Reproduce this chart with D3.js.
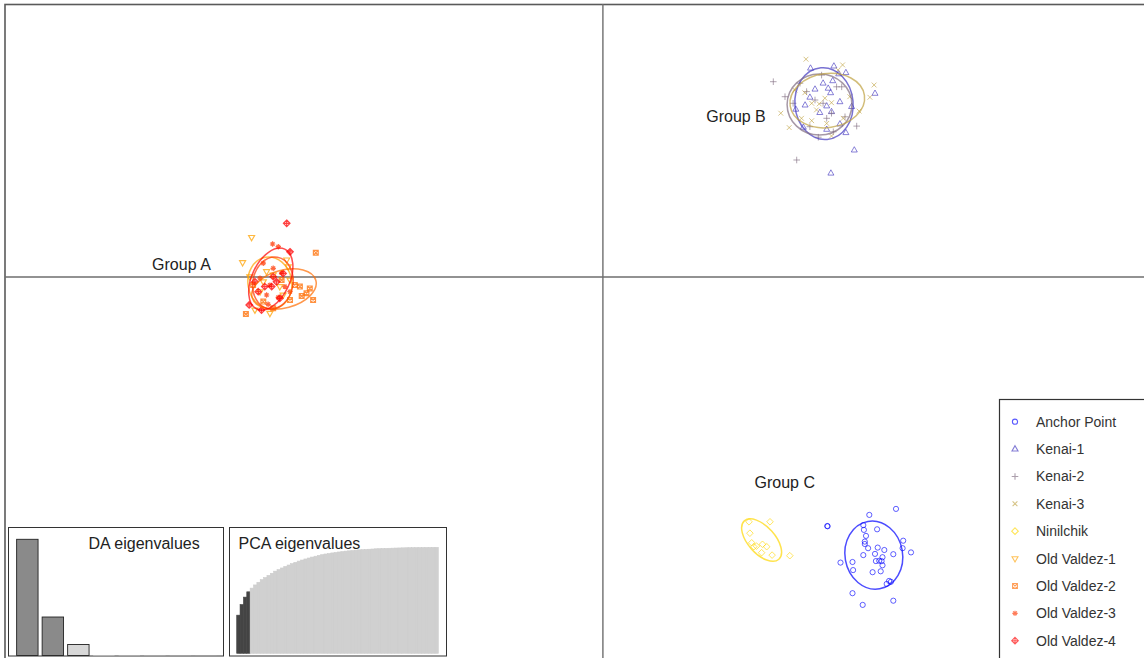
<!DOCTYPE html>
<html>
<head>
<meta charset="utf-8">
<script src="https://cdn.jsdelivr.net/npm/d3@7"></script>
<style>
  body { margin: 0; background: #fff; }
  svg { display: block; font-family: "Liberation Sans", Arial, Helvetica, sans-serif; }
</style>
</head>
<body>
<svg id="chart" width="1144" height="658"></svg>
<script>
// ---- Populations, colours and plotting symbols (R pch codes) ----
const populations = ["Anchor Point", "Kenai-1", "Kenai-2", "Kenai-3", "Ninilchik",
                     "Old Valdez-1", "Old Valdez-2", "Old Valdez-3", "Old Valdez-4"];
const popColors = ["#0000ff", "#4036bf", "#806c80", "#bfa140", "#ffd700",
                   "#ffa100", "#ff6c00", "#ff3600", "#ff0000"];
const popSymbols = [1, 2, 3, 4, 5, 6, 7, 8, 9];

// ---- Individual scores on the discriminant functions [LD1, LD2] ----
const anchorPoint = [[8.88,-7.93],[9.77,-7.73],[7.48,-8.30],[7.49,-8.31],[8.68,-8.27],[8.70,-8.43],[9.14,-8.41],
  [8.77,-8.63],[8.73,-8.82],[8.73,-8.90],[8.84,-9.04],[9.16,-9.02],[9.38,-9.10],[10.01,-8.79],
  [9.99,-9.04],[10.27,-9.18],[9.68,-9.24],[9.07,-9.23],[8.68,-9.27],[9.32,-9.34],[9.10,-9.47],
  [9.21,-9.46],[9.29,-9.47],[9.32,-9.61],[7.92,-9.52],[8.32,-9.50],[8.34,-9.77],[8.99,-9.84],
  [9.26,-9.81],[9.54,-10.13],[9.46,-10.23],[9.60,-10.16],[8.32,-10.54],[9.68,-10.79],[8.66,-10.93]];
const kenai1 = [[6.92,6.96],[7.70,7.03],[8.10,6.81],[7.86,6.77],[7.34,6.46],[7.66,6.54],[7.07,6.26],
  [7.51,6.29],[7.59,6.14],[6.90,5.99],[7.90,5.84],[8.29,5.68],[6.74,5.73],[6.43,5.59],[7.46,5.70],
  [7.23,5.48],[7.62,5.51],[6.68,4.99],[7.46,4.92],[7.90,5.10],[8.10,4.81],[9.07,6.12],[8.38,4.23],
  [7.60,3.46]];
const kenai2 = [[5.68,6.51],[6.07,6.01],[6.79,6.18],[7.07,5.90],[7.34,5.79],[7.62,5.46],[7.46,5.29],
  [7.79,6.34],[7.29,6.73],[6.34,5.79],[6.90,5.01],[7.18,4.66],[7.68,4.84],[8.46,5.03],[6.46,3.90],
  [8.07,5.34],[7.96,6.34],[6.57,6.46]];
const kenai3 = [[6.77,7.26],[7.99,7.07],[7.84,6.90],[9.04,6.40],[8.90,5.99],[5.93,5.46],[6.21,4.98],
  [6.40,6.23],[6.73,6.14],[6.96,5.79],[7.21,5.77],[7.62,5.81],[7.12,5.57],[8.01,5.29],[6.96,5.21],
  [7.46,5.12],[8.54,5.53],[7.40,5.96],[7.62,4.70],[8.23,6.01],[6.62,5.29]];
const ninilchik = [[4.87,-8.16],[5.57,-8.16],[4.90,-8.54],[4.96,-8.86],[5.12,-8.97],[5.32,-8.91],
  [5.46,-8.99],[5.29,-9.19],[5.64,-9.27],[6.23,-9.29],[5.03,-8.99]];
const oldValdez1 = [[-11.71,1.32],[-12.01,0.48],[-10.54,0.57],[-10.49,0.34],[-11.21,0.18],[-10.77,-0.32],
  [-11.32,-0.16],[-11.60,-1.10],[-11.10,-1.21],[-10.43,-0.10],[-10.99,0.07],[-11.77,0.01],
  [-11.43,-0.49],[-10.66,-0.60]];
const oldValdez2 = [[-9.57,0.81],[-11.90,-1.23],[-9.66,-0.77],[-9.88,-0.54],[-10.10,-0.32],[-10.27,-0.27],
  [-10.04,-0.63],[-11.32,-0.82],[-11.66,-0.27],[-10.43,-0.77],[-10.99,-1.04],[-9.77,-0.38],[-10.71,-0.10]];
const oldValdez3 = [[-11.01,1.10],[-10.82,1.01],[-11.32,0.46],[-10.71,0.14],[-11.10,-0.27],[-10.82,-0.68],
  [-11.21,-0.60],[-11.43,-0.04],[-10.99,0.29],[-10.60,-0.32],[-10.43,-0.49],[-11.16,-0.91]];
const oldValdez4 = [[-10.54,1.79],[-11.79,-0.93],[-11.38,-1.10],[-10.99,0.01],[-11.04,-0.32],[-10.77,-0.71],
  [-10.43,0.84],[-11.49,-0.49],[-11.27,-0.32],[-10.66,0.12],[-10.88,-0.16],[-11.60,-0.16]];
const scores = [anchorPoint, kenai1, kenai2, kenai3, ninilchik,
                oldValdez1, oldValdez2, oldValdez3, oldValdez4];

// ---- Inertia ellipses per population: centre, semi-axes (LD units), angle (deg) ----
const ellipseCenters = [[9.03,-9.27],[7.37,5.78],[7.22,5.75],[7.48,5.88],[5.29,-8.77],
                        [-11.10,-0.20],[-10.63,-0.40],[-11.0,-0.2],[-11.07,-0.07]];
const ellipseAxes    = [[0.96,1.14],[0.97,1.20],[1.08,1.02],[1.25,0.90],[0.86,0.45],
                        [0.73,0.87],[1.10,0.63],[0.67,0.87],[0.63,1.10]];
const ellipseAngles  = [-10, -5, 0, -8, 48, -10, -15, 10, 25];

// ---- Group labels ----
const groupLabels = ["Group A", "Group B", "Group C"];
const groupLabelPos = [[-13.07, 0.23], [5.43, 5.17], [7.07, -7.03]];

// ---- Eigenvalues ----
const daEigen = [1540, 510, 146, 6, 4, 3, 2, 1];
const daRetained = 2;
const pcaCumVar = [36,46,53,58,61.5,64.5,67,69.5,71.5,73.5,75.5,77.5,79,80.5,82,83.3,84.6,85.8,87,88,
  89,89.9,90.8,91.6,92.4,93.1,93.7,94.2,94.7,95.2,95.6,96.0,96.4,96.7,97.0,97.3,97.6,97.8,98.0,98.2,
  98.4,98.6,98.7,98.9,99.0,99.1,99.2,99.3,99.4,99.5,99.6,99.65,99.7,99.75,99.8,99.85,99.9,99.93,99.97,100];
const pcaRetained = 4;

// ---------------------------------------------------------------
const svg = d3.select("#chart");
const W = 1144, H = 658;

const x = d3.scaleLinear().domain([-19.93, 18.17]).range([5, 1148]);
const y = d3.scaleLinear().domain([-12.8, 9.1]).range([661, 4]);

// frame and axes through the origin
svg.append("rect").attr("x", x(-19.93)).attr("y", y(9.1) + 0.5)
  .attr("width", 1200).attr("height", 700)
  .attr("fill", "none").attr("stroke", "#5a5a5a").attr("stroke-width", 1.6);
svg.append("line").attr("x1", x(-19.93)).attr("x2", W + 10)
  .attr("y1", y(0)).attr("y2", y(0)).attr("stroke", "#6e6e6e").attr("stroke-width", 1.4);
svg.append("line").attr("x1", x(0)).attr("x2", x(0))
  .attr("y1", y(9.1)).attr("y2", H + 10).attr("stroke", "#6e6e6e").attr("stroke-width", 1.4);

// symbol path generators, following R's pch shapes
function symbolPath(pch) {
  const p = d3.path();
  switch (pch) {
    case 1: p.moveTo(2.6, 0); p.arc(0, 0, 2.6, 0, 2 * Math.PI); break;
    case 2: p.moveTo(0, -3.4); p.lineTo(3.0, 1.9); p.lineTo(-3.0, 1.9); p.closePath(); break;
    case 3: p.moveTo(-3.3, 0); p.lineTo(3.3, 0); p.moveTo(0, -3.3); p.lineTo(0, 3.3); break;
    case 4: p.moveTo(-2.4, -2.4); p.lineTo(2.4, 2.4); p.moveTo(-2.4, 2.4); p.lineTo(2.4, -2.4); break;
    case 5: p.moveTo(0, -3.3); p.lineTo(3.3, 0); p.lineTo(0, 3.3); p.lineTo(-3.3, 0); p.closePath(); break;
    case 6: p.moveTo(0, 3.4); p.lineTo(3.0, -1.9); p.lineTo(-3.0, -1.9); p.closePath(); break;
    case 7: p.rect(-2.4, -2.4, 4.8, 4.8);
            p.moveTo(-2.4, -2.4); p.lineTo(2.4, 2.4); p.moveTo(-2.4, 2.4); p.lineTo(2.4, -2.4); break;
    case 8: p.moveTo(-2.7, 0); p.lineTo(2.7, 0); p.moveTo(0, -2.7); p.lineTo(0, 2.7);
            p.moveTo(-1.9, -1.9); p.lineTo(1.9, 1.9); p.moveTo(-1.9, 1.9); p.lineTo(1.9, -1.9); break;
    case 9: p.moveTo(0, -3.3); p.lineTo(3.3, 0); p.lineTo(0, 3.3); p.lineTo(-3.3, 0); p.closePath();
            p.moveTo(-3.3, 0); p.lineTo(3.3, 0); p.moveTo(0, -3.3); p.lineTo(0, 3.3); break;
  }
  return p.toString();
}

// points
const pts = svg.append("g").attr("class", "points");
scores.forEach((arr, i) => {
  pts.selectAll(null).data(arr).enter().append("path")
    .attr("transform", d => `translate(${x(d[0])},${y(d[1])})`)
    .attr("d", symbolPath(popSymbols[i]))
    .attr("fill", "none")
    .attr("stroke", popColors[i])
    .attr("stroke-opacity", i >= 5 ? 0.75 : 0.62)
    .attr("stroke-width", i >= 5 ? 1.2 : 1);
});

// ellipses
const ell = svg.append("g").attr("class", "ellipses");
ellipseCenters.forEach((c, i) => {
  const rx = x(ellipseAxes[i][0]) - x(0);
  const ry = y(0) - y(ellipseAxes[i][1]);
  ell.append("ellipse")
    .attr("transform", `translate(${x(c[0])},${y(c[1])}) rotate(${ellipseAngles[i]})`)
    .attr("rx", rx).attr("ry", ry)
    .attr("fill", "none")
    .attr("stroke", popColors[i])
    .attr("stroke-opacity", 0.7)
    .attr("stroke-width", 1.5);
});

// group labels
svg.append("g").selectAll("text").data(groupLabels).enter().append("text")
  .attr("x", (d, i) => x(groupLabelPos[i][0]))
  .attr("y", (d, i) => y(groupLabelPos[i][1]))
  .attr("text-anchor", "end")
  .attr("font-size", 16)
  .attr("fill", "#222")
  .text(d => d);

// legend
const lg = svg.append("g").attr("class", "legend");
lg.append("rect").attr("x", 999.5).attr("y", 399.5).attr("width", 200).attr("height", 300)
  .attr("fill", "#fff").attr("stroke", "#333").attr("stroke-width", 1.2);
const rowY = d3.scalePoint().domain(populations).range([421.7, 640.7]);
populations.forEach((name, i) => {
  lg.append("path")
    .attr("transform", `translate(1015,${rowY(name)})`)
    .attr("d", symbolPath(popSymbols[i]))
    .attr("fill", "none").attr("stroke", popColors[i])
    .attr("stroke-opacity", 0.65).attr("stroke-width", 1.1);
  lg.append("text").attr("x", 1036).attr("y", rowY(name) + 5)
    .attr("font-size", 14).attr("fill", "#333").text(name);
});

// ---- DA eigenvalues inset ----
const da = svg.append("g").attr("class", "da-eigen");
da.append("rect").attr("x", 8.5).attr("y", 527.5).attr("width", 215).attr("height", 128.5)
  .attr("fill", "#fff").attr("stroke", "#333").attr("stroke-width", 1);
const xDA = d3.scaleBand().domain(d3.range(daEigen.length)).range([14.6, 218.6])
  .paddingInner(0.16).paddingOuter(0.08);
const yDA = d3.scaleLinear().domain([0, d3.max(daEigen)]).range([655.5, 539.3]);
da.selectAll("rect.bar").data(daEigen).enter().append("rect").attr("class", "bar")
  .attr("x", (d, i) => xDA(i)).attr("width", xDA.bandwidth())
  .attr("y", d => yDA(d)).attr("height", d => yDA(0) - yDA(d))
  .attr("fill", (d, i) => i < daRetained ? "#8a8a8a" : "#d8d8d8")
  .attr("stroke", (d, i) => i < 3 ? "#222" : "none").attr("stroke-width", 0.9);
da.append("text").attr("x", 88.5).attr("y", 548.5).attr("font-size", 16).attr("fill", "#222")
  .text("DA eigenvalues");

// ---- PCA eigenvalues inset (cumulated variance) ----
const pca = svg.append("g").attr("class", "pca-eigen");
pca.append("rect").attr("x", 229.5).attr("y", 527.5).attr("width", 217).attr("height", 128.5)
  .attr("fill", "#fff").attr("stroke", "#333").attr("stroke-width", 1);
const xPCA = d3.scaleBand().domain(d3.range(pcaCumVar.length)).range([236.7, 438.3]).padding(0);
const yPCA = d3.scaleLinear().domain([0, 100]).range([653.3, 547.3]);
pca.selectAll("rect.bar").data(pcaCumVar).enter().append("rect").attr("class", "bar")
  .attr("x", (d, i) => xPCA(i)).attr("width", xPCA.bandwidth())
  .attr("y", d => yPCA(d)).attr("height", d => yPCA(0) - yPCA(d))
  .attr("fill", (d, i) => i < pcaRetained ? "#444" : "#d0d0d0")
  .attr("stroke", (d, i) => i < pcaRetained ? "#444" : "#cdcdcd")
  .attr("stroke-width", 0.6);
pca.append("text").attr("x", 238.5).attr("y", 548.5).attr("font-size", 16).attr("fill", "#222")
  .text("PCA eigenvalues");
</script>
</body>
</html>
